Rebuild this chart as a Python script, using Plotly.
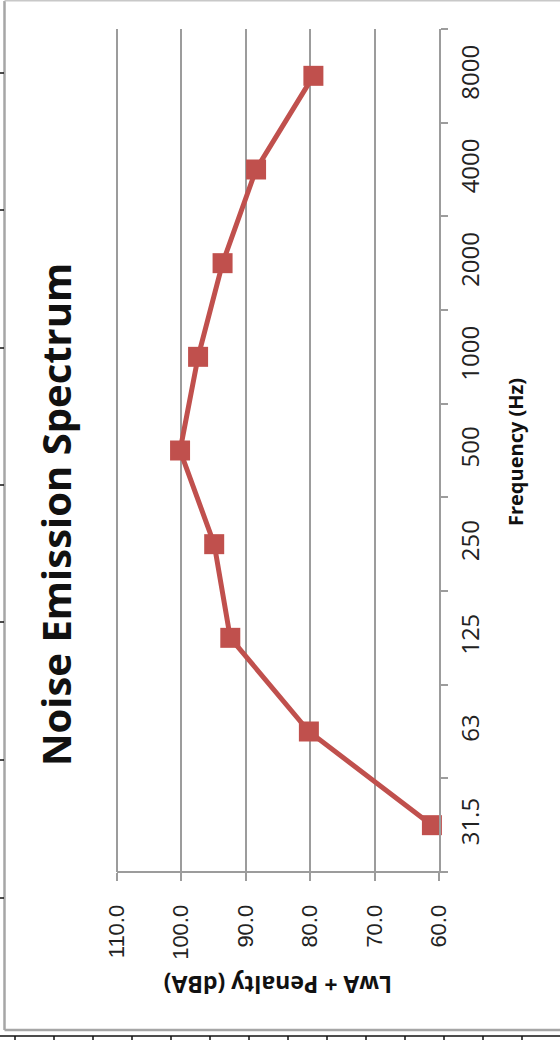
import plotly.graph_objects as go

# ---- data ----
frequencies = ["31.5", "63", "125", "250", "500", "1000", "2000", "4000", "8000"]
levels = [61.1, 80.2, 92.4, 94.9, 100.2, 97.4, 93.6, 88.4, 79.5]
value_ticks = [110, 100, 90, 80, 70, 60]
value_tick_labels = ["110.0", "100.0", "90.0", "80.0", "70.0", "60.0"]

title_text = "Noise Emission Spectrum"
freq_title = "Frequency (Hz)"
value_title = "LwA + Penalty (dBA)"

W, H = 560, 1040
L, R, T, B = 115, 439, 29, 872  # plot area in px


def px(x):
    return (x - L) / (R - L)


def py(y):
    return (B - y) / (B - T)


RED = "#C0504D"
GRID = "#9C9C9C"

fig = go.Figure()
fig.add_trace(go.Scatter(
    x=levels, y=frequencies, mode="lines+markers",
    line=dict(color=RED, width=5),
    marker=dict(symbol="square", size=20, color=RED),
    hoverinfo="skip", showlegend=False, cliponaxis=False,
))

fig.update_layout(
    width=W, height=H,
    margin=dict(l=L, r=W - R, t=T, b=H - B, pad=0),
    paper_bgcolor="white", plot_bgcolor="white",
    showlegend=False,
    xaxis=dict(
        range=[110.3, 60], tickvals=value_ticks, ticktext=value_tick_labels,
        tickangle=-90, ticks="outside", ticklen=8, tickcolor=GRID, tickwidth=2,
        showgrid=True, gridcolor=GRID, gridwidth=2,
        showline=False,
        zeroline=False, ticklabelstandoff=15,
        tickfont=dict(family="Liberation Sans, Arial", size=22, color="#222"),
    ),
    yaxis=dict(
        type="category", categoryorder="array", categoryarray=frequencies,
        range=[-0.5, len(frequencies) - 0.5],
        side="right", tickangle=-90, tickson="boundaries",
        ticks="outside", ticklen=7, tickcolor=GRID, tickwidth=2,
        showgrid=False, showline=True, linecolor=GRID, linewidth=2,
        zeroline=False, ticklabelstandoff=9,
        tickfont=dict(family="Open Sans", size=24, color="#222"),
    ),
)

annotations = [
    dict(text="<b>%s</b>" % title_text, x=px(55), y=py(515), textangle=-90,
         font=dict(family="Open Sans", size=40, color="#111")),
    dict(text="<b>%s</b>" % freq_title, x=px(515), y=py(452), textangle=-90,
         font=dict(family="Open Sans", size=20, color="#111")),
    dict(text="<b>%s</b>" % value_title, x=px(278), y=py(985), textangle=180,
         font=dict(family="Open Sans", size=23, color="#111")),
]
for a in annotations:
    a.update(xref="paper", yref="paper", showarrow=False,
             xanchor="center", yanchor="middle")
fig.update_layout(annotations=annotations)

shapes = []
# value-axis baseline (from 110 to just past the category axis)
shapes.append(dict(type="line", x0=px(117), x1=px(446), y0=0, y1=0,
                   line=dict(color=GRID, width=2)))
# outer chart frame (gray)
shapes.append(dict(type="line", x0=px(4.5), x1=px(4.5), y0=py(1), y1=py(1030),
                   line=dict(color="#A6A6A6", width=2.5)))
shapes.append(dict(type="line", x0=px(4.5), x1=px(565), y0=py(1030), y1=py(1030),
                   line=dict(color="#A6A6A6", width=2.5)))
shapes.append(dict(type="line", x0=px(4.5), x1=px(565), y0=py(0.7), y1=py(0.7),
                   line=dict(color="#C8C8C8", width=1.5)))
# spreadsheet cell grid remnants (black)
shapes.append(dict(type="line", x0=px(0), x1=px(565), y0=py(1036), y1=py(1036),
                   line=dict(color="#111", width=1.5)))
for k in range(15):
    xx = 15 + 39 * k
    shapes.append(dict(type="line", x0=px(xx), x1=px(xx), y0=py(1036), y1=py(1041),
                       line=dict(color="#111", width=1.5)))
for yy in [73, 210, 348, 485, 622, 760, 898]:
    shapes.append(dict(type="line", x0=px(0), x1=px(4), y0=py(yy), y1=py(yy),
                       line=dict(color="#111", width=1.5)))
for s in shapes:
    s.update(xref="paper", yref="paper", layer="above")
fig.update_layout(shapes=shapes)

fig.write_html("out.html")
